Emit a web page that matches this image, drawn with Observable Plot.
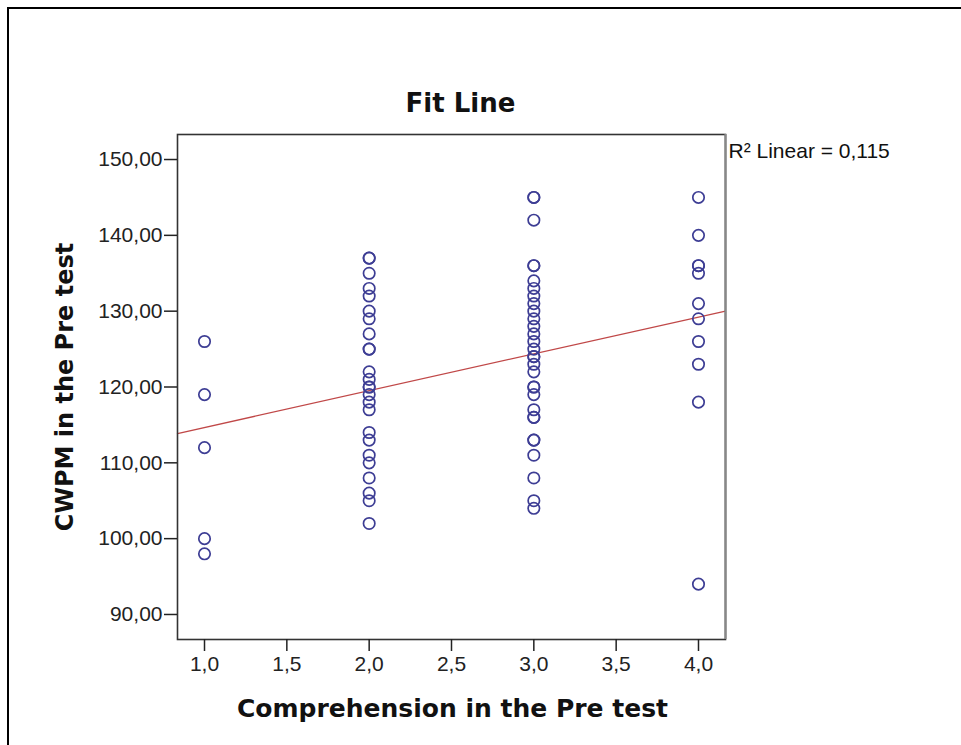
<!DOCTYPE html>
<html>
<head>
<meta charset="utf-8">
<script src="https://cdn.jsdelivr.net/npm/d3@7"></script>
<script src="https://cdn.jsdelivr.net/npm/@observablehq/plot@0.6"></script>
<style>
  html, body { margin: 0; padding: 0; background: #fff; }
  #wrap { position: relative; width: 961px; height: 745px; overflow: hidden; }
  #border { position: absolute; left: 7px; top: 7px; width: 970px; height: 760px; border-left: 2px solid #000; border-top: 2px solid #000; }
  #chart { position: absolute; left: 0; top: 0; }
</style>
</head>
<body>
<div id="wrap"><div id="border"></div><div id="chart"></div></div>
<script>
const comprehension1 = [126, 119, 112, 100, 98];
const comprehension2 = [137, 137, 135, 133, 132, 130, 129, 127, 125, 125, 122, 121, 120, 120, 119, 118, 117, 114, 113, 111, 110, 108, 106, 105, 102];
const comprehension3 = [145, 145, 142, 136, 136, 134, 133, 132, 131, 130, 129, 128, 127, 126, 125, 124, 124, 123, 122, 120, 120, 119, 117, 116, 116, 113, 113, 111, 108, 105, 104];
const comprehension4 = [145, 140, 136, 136, 135, 131, 129, 126, 123, 118, 94];
const xTicks = [1.0, 1.5, 2.0, 2.5, 3.0, 3.5, 4.0];
const yTicks = [90, 100, 110, 120, 130, 140, 150];
const titleText = "Fit Line";
const xLabel = "Comprehension in the Pre test";
const yLabel = "CWPM in the Pre test";
const r2Label = "R\u00B2 Linear = 0,115";

const data = [
  ...comprehension1.map(v => ({x: 1, y: v})),
  ...comprehension2.map(v => ({x: 2, y: v})),
  ...comprehension3.map(v => ({x: 3, y: v})),
  ...comprehension4.map(v => ({x: 4, y: v}))
];

const xDomain = [0.836, 4.164];
const yDomain = [86.7, 153.3];

// least squares fit
const mx = d3.mean(data, d => d.x), my = d3.mean(data, d => d.y);
const slope = d3.sum(data, d => (d.x - mx) * (d.y - my)) / d3.sum(data, d => (d.x - mx) ** 2);
const intercept = my - slope * mx;
const fit = xDomain.map(x => ({x, y: intercept + slope * x}));

const fmtX = d => d.toFixed(1).replace(".", ",");
const fmtY = d => d.toFixed(2).replace(".", ",");

const plot = Plot.plot({
  width: 961,
  height: 745,
  marginLeft: 177,
  marginRight: 236,
  marginTop: 134,
  marginBottom: 106,
  style: {fontFamily: "'Liberation Sans', Arial, sans-serif", background: "transparent"},
  x: {domain: xDomain, ticks: xTicks, tickFormat: fmtX, label: null},
  y: {domain: yDomain, ticks: yTicks, tickFormat: fmtY, label: null},
  marks: [
    Plot.line(fit, {x: "x", y: "y", stroke: "#c04848", strokeWidth: 1.3}),
    Plot.dot(data, {x: "x", y: "y", r: 5.7, stroke: "#3d3d94", strokeWidth: 1.7, fill: "none"}),
    Plot.frame({stroke: "#333", strokeWidth: 1.6}),
    Plot.ruleX([xDomain[1]], {stroke: "#888", strokeWidth: 2.2}),
    Plot.axisX({ticks: xTicks, tickFormat: fmtX, tickSize: 12, tickPadding: 5, fontSize: 21, label: null, stroke: "#222", strokeWidth: 1.5, color: "#222"}),
    Plot.axisY({ticks: yTicks, tickFormat: fmtY, tickSize: 13, tickPadding: 2, fontSize: 21, label: null, stroke: "#222", strokeWidth: 1.5, color: "#222"}),
    Plot.text([titleText], {frameAnchor: "top", dy: -41, dx: 9, fontSize: 26, fontWeight: "bold", fontFamily: "'DejaVu Sans'", fill: "#111"}),
    Plot.text([xLabel], {frameAnchor: "bottom", dy: 77, dx: 1, fontSize: 25, fontWeight: "bold", fontFamily: "'DejaVu Sans'", fill: "#111"}),
    Plot.text([yLabel], {frameAnchor: "left", dx: -112, dy: 0, rotate: -90, textAnchor: "middle", fontSize: 24, fontWeight: "bold", fontFamily: "'DejaVu Sans'", fill: "#111"}),
    Plot.text([r2Label], {frameAnchor: "top-right", dx: 3, dy: 9, textAnchor: "start", fontSize: 21, fill: "#111"})
  ]
});
document.getElementById("chart").appendChild(plot);
</script>
</body>
</html>
